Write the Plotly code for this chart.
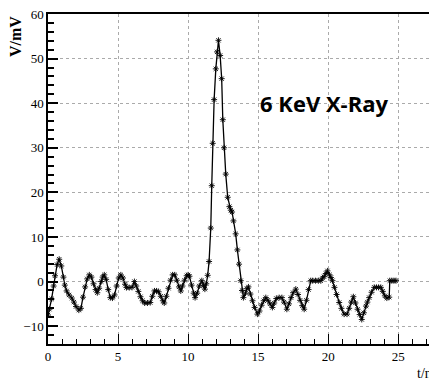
import plotly.graph_objects as go

# time (ns) and signal (mV)
t_ns = [0.0, 0.1, 0.26, 0.4, 0.5, 0.65, 0.8, 0.95, 1.1, 1.2, 1.33, 1.5, 1.7, 1.85, 2.0, 2.2, 2.35,
        2.5, 2.65, 2.8, 2.95, 3.1, 3.25, 3.4, 3.52, 3.65, 3.8, 3.9, 4.02, 4.15, 4.3, 4.45, 4.6,
        4.75, 4.9, 5.05, 5.2, 5.35, 5.5, 5.6, 5.8, 6.0, 6.17, 6.3, 6.45, 6.6, 6.75, 6.9, 7.1,
        7.3, 7.45, 7.6, 7.75, 7.9, 8.05, 8.2, 8.3, 8.45, 8.6, 8.75, 8.9, 9.05, 9.2, 9.35, 9.48,
        9.6, 9.75, 9.9, 10.0, 10.1, 10.25, 10.4, 10.5, 10.65, 10.8, 10.98, 11.1, 11.2, 11.3,
        11.4, 11.5, 11.62, 11.69, 11.76, 11.86, 11.98, 12.07, 12.17, 12.29, 12.4, 12.48, 12.57,
        12.69, 12.83, 12.95, 13.05, 13.14, 13.24, 13.4, 13.52, 13.64, 13.76, 13.85, 13.95,
        14.1, 14.2, 14.31, 14.45, 14.6, 14.75, 14.95, 15.1, 15.25, 15.4, 15.55, 15.7, 15.85,
        16.02, 16.15, 16.3, 16.5, 16.7, 16.85, 17.05, 17.2, 17.35, 17.5, 17.69, 17.85, 18.0,
        18.15, 18.29, 18.45, 18.6, 18.76, 18.9, 19.1, 19.3, 19.48, 19.6, 19.71, 19.83, 19.95,
        20.1, 20.2, 20.31, 20.45, 20.6, 20.79, 20.95, 21.14, 21.35, 21.5, 21.65, 21.8, 21.95,
        22.1, 22.25, 22.4, 22.55, 22.7, 22.8, 22.93, 23.1, 23.29, 23.45, 23.6, 23.76, 23.9,
        24.05, 24.19, 24.36, 24.4, 24.55, 24.7, 24.84]
v_mv = [-7.5, -6.2, -3.9, -1.0, 1.3, 3.8, 5.0, 3.5, 1.0, -0.8, -2.1, -3.0, -3.7, -4.6, -5.6, -6.4, -6.0,
        -3.5, -1.2, 0.6, 1.5, 1.0, -0.5, -1.8, -2.5, -1.5, 0.0, 1.0, 1.5, 0.5, -1.8, -3.6, -3.7,
        -3.0, -1.0, 0.8, 1.5, 0.8, -0.6, -1.35, -1.35, -1.3, 0.0, -1.0, -2.2, -3.4, -4.3, -4.8, -4.8,
        -4.7, -3.3, -2.1, -2.1, -2.3, -3.3, -4.3, -4.8, -3.3, -1.5, 0.3, 1.5, 1.5, 0.3, -1.2, -2.1,
        -1.0, 0.3, 1.3, 1.5, 1.2, -0.8, -2.6, -3.6, -2.6, -1.0, 0.2, -0.9, -1.7, -0.5,
        1.4, 4.5, 12.0, 21.5, 31.0, 40.8, 47.7, 51.5, 54.1, 50.7, 45.5, 36.3, 30.0,
        24.1, 18.9, 16.8, 16.0, 15.6, 13.6, 10.7, 7.1, 3.9, 0.2, -2.0, -3.6,
        -2.6, -1.6, -1.2, -2.8, -4.3, -5.8, -7.3, -6.6, -5.3, -4.3, -3.6, -4.2, -5.0,
        -5.8, -4.8, -3.8, -3.6, -3.6, -4.6, -6.2, -5.0, -3.6, -2.5, -1.7, -2.9, -4.2,
        -5.4, -6.2, -4.2, -1.8, 0.2, 0.2, 0.2, 0.2, 0.2, 0.8, 1.1, 1.8, 2.4,
        1.5, 0.9, 0.2, -1.3, -2.9, -4.7, -6.0, -7.3, -7.3, -6.0, -4.6, -3.4, -4.8,
        -6.2, -7.4, -8.5, -7.0, -5.5, -4.6, -3.6, -2.4, -1.3, -1.3, -1.3, -1.3, -2.2,
        -3.2, -3.7, -3.5, 0.2, 0.2, 0.2, 0.2]

x_ticks = [0, 5, 10, 15, 20, 25]
y_ticks = [-10, 0, 10, 20, 30, 40, 50, 60]
label_text = "6 KeV X-Ray"

tick_font = dict(family="Liberation Serif, Times New Roman, serif", size=13, color="black")

fig = go.Figure()
fig.add_trace(go.Scatter(
    x=t_ns, y=v_mv, mode="lines+markers",
    line=dict(color="black", width=1.3),
    marker=dict(symbol="asterisk-open", size=5, color="black",
                line=dict(color="#222222", width=0.9)),
    showlegend=False,
))

fig.add_annotation(x=19.7, y=40, xref="x", yref="y", text=label_text, showarrow=False,
                   font=dict(family="Open Sans, Liberation Sans, sans-serif", size=22,
                             color="black", weight="bold"),
                   xanchor="center", yanchor="middle")
fig.add_annotation(x=-0.085, y=1.0, xref="paper", yref="paper", text="<b>V/mV</b>",
                   showarrow=False, textangle=-90,
                   font=dict(family="Liberation Serif, serif", size=16, color="black"),
                   xanchor="center", yanchor="top")
fig.add_annotation(x=0.963, y=-0.06, xref="paper", yref="paper", text="t/ns",
                   showarrow=False,
                   font=dict(family="Liberation Serif, serif", size=14, color="black"),
                   xanchor="left", yanchor="top")

fig.update_layout(
    width=429, height=381,
    margin=dict(l=48, r=0, t=14, b=37, autoexpand=False),
    plot_bgcolor="white", paper_bgcolor="white",
    xaxis=dict(range=[0, 27.2], tickvals=x_ticks, showline=True, linecolor="black", linewidth=1.5,
               mirror=True, ticks="inside", ticklen=10, tickcolor="black", tickwidth=1,
               minor=dict(ticks="inside", ticklen=5, dtick=1, tickcolor="black", showgrid=False),
               showgrid=True, gridcolor="#aaaaaa", griddash="dot", gridwidth=1,
               zeroline=False, tickfont=tick_font, automargin=False),
    yaxis=dict(range=[-14, 60], tickvals=y_ticks, showline=True, linecolor="black", linewidth=1.5,
               ticks="inside", ticklen=10, tickcolor="black", tickwidth=1.5,
               minor=dict(ticks="inside", ticklen=6, dtick=2, tickcolor="black", showgrid=False),
               showgrid=True, gridcolor="#aaaaaa", griddash="dot", gridwidth=1,
               zeroline=False, tickfont=tick_font, automargin=False),
)

fig.write_html("out.html", config={"displayModeBar": False},
               post_script="document.body.style.margin='0';document.body.style.overflow='hidden';")
